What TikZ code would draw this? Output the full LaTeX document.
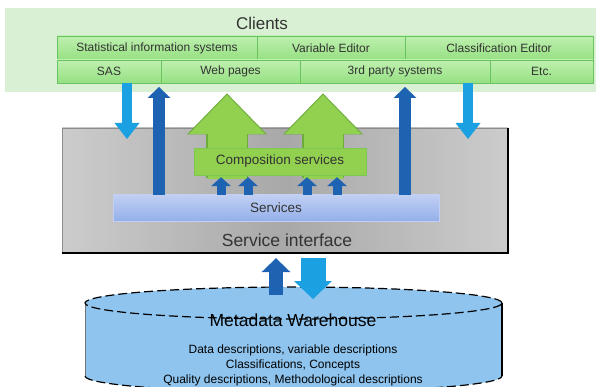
\documentclass[tikz,border=0pt]{standalone}
\usepackage{fontspec}
\setmainfont{Liberation Sans}
\usepackage{tikz}
\usetikzlibrary{arrows.meta,positioning,calc}
\usepackage{xcolor}
\definecolor{clientbg}{RGB}{218,240,212}
\definecolor{cellgreen}{RGB}{150,224,130}
\definecolor{celllight}{RGB}{190,240,175}
\definecolor{cellborder}{RGB}{105,195,95}
\definecolor{arrowgreen}{RGB}{146,208,80}
\definecolor{arrowgreenbd}{RGB}{108,172,58}
\definecolor{compborder}{RGB}{125,200,80}
\definecolor{lightarrow}{RGB}{27,160,226}
\definecolor{darkarrow}{RGB}{30,98,178}
\definecolor{servblue}{RGB}{148,176,234}
\definecolor{servlight}{RGB}{192,207,243}
\definecolor{dwhblue}{RGB}{142,196,238}
\definecolor{textgray}{RGB}{51,51,51}
\tikzstyle{clientsbg} = [rectangle, fill=clientbg, inner sep=0pt]
\tikzstyle{cell} = [rectangle, draw=cellborder, line width=0.8pt, top color=celllight, bottom color=cellgreen, minimum height=24pt, inner sep=0pt, text=textgray, font=\fontsize{12}{14}\selectfont]
\tikzstyle{iface} = [rectangle, left color=black!20, right color=black!20, middle color=black!34, draw=black!45, inner sep=0pt]
\tikzstyle{comp} = [rectangle, fill=arrowgreen, draw=compborder, inner sep=0pt, text=textgray, font=\fontsize{13.5}{16}\selectfont]
\tikzstyle{serv} = [rectangle, top color=servlight, bottom color=servblue, draw=servlight, inner sep=0pt, text=textgray, font=\fontsize{13.5}{16}\selectfont]
\tikzstyle{dnarrow} = [line width=10pt, color=lightarrow, -{Triangle[width=25pt, length=16pt, line width=0pt]}]
\tikzstyle{uparrow} = [line width=12pt, color=darkarrow, -{Triangle[width=23pt, length=11pt, line width=0pt]}]
\tikzstyle{smallarrow} = [line width=9pt, color=darkarrow, -{Triangle[width=20pt, length=9pt, line width=0pt]}]
\tikzstyle{greenarrowbd} = [line width=42pt, color=arrowgreenbd, -{Triangle[width=80pt, length=41pt, line width=0pt]}]
\tikzstyle{greenarrow} = [line width=39pt, color=arrowgreen, -{Triangle[width=76pt, length=39pt, line width=0pt]}]
\tikzstyle{uparrowbig} = [line width=14pt, color=darkarrow, -{Triangle[width=29pt, length=14pt, line width=0pt]}]
\tikzstyle{dnarrowbig} = [line width=25pt, color=lightarrow, -{Triangle[width=38pt, length=18pt, line width=0pt]}]
\tikzstyle{dwhline} = [black, line width=1.2pt, dash pattern=on 9pt off 4pt]

\begin{document}
\begin{tikzpicture}[x=1pt, y=-1pt]
    \useasboundingbox (0,0) rectangle (596,387);

    % Clients
    \node[clientsbg, minimum width=591, minimum height=84] (clients) at (300.5,50) {};
    \node[text=textgray, font=\fontsize{17}{20}\selectfont] (clientslbl) at (262,23) {Clients};

    % Top row
    \node[cell, minimum width=200] (stat) at (157,48) {Statistical information systems};
    \node[cell, minimum width=148] (vared) at (331,48) {Variable Editor};
    \node[cell, minimum width=188] (classed) at (499,48) {Classification Editor};

    % Second row
    \node[cell, minimum width=104, minimum height=23] (sas) at (109,71.5) {SAS};
    \node[cell, minimum width=139, minimum height=23] (web) at (230.5,71.5) {Web pages};
    \node[cell, minimum width=190, minimum height=23] (third) at (395,71.5) {3rd party systems};
    \node[cell, minimum width=103, minimum height=23] (etc) at (541.5,71.5) {Etc.};

    % Service interface
    \node[iface, minimum width=446, minimum height=125] (iface) at (285,190.5) {};
    \draw[line width=1.5pt] (iface.north east) -- (iface.south east) -- (iface.south west);
    \node[text=textgray, font=\fontsize{17.5}{20}\selectfont] (ifacelbl) at (287,240) {Service interface};

    % Big green arrows
    \coordinate (g1) at (227,178);
    \coordinate (g2) at (323,178);
    \draw[greenarrowbd] (g1) -- ([yshift=-10pt]web.south -| g1);
    \draw[greenarrow] ([yshift=-1pt]g1) -- ([yshift=-11.5pt]web.south -| g1);
    \draw[greenarrowbd] (g2) -- ([yshift=-10pt]web.south -| g2);
    \draw[greenarrow] ([yshift=-1pt]g2) -- ([yshift=-11.5pt]web.south -| g2);

    % Composition and services
    \node[comp, minimum width=172, minimum height=27] (comp) at (280,161.5) {Composition services};
    \node[serv, minimum width=326, minimum height=26] (serv) at (276,208) {Services};

    \foreach \x [count=\i] in {221,248,307,337} {
        \coordinate (s\i) at (\x,0);
        \draw[smallarrow] (serv.north -| s\i) -- ([yshift=-2pt]comp.south -| s\i);
    }

    % Clients <-> services
    \coordinate (a1) at (127,139);
    \coordinate (a2) at (159,87);
    \coordinate (a3) at (405,87);
    \coordinate (a4) at (468,139);
    \draw[dnarrow] (sas.south -| a1) -- (a1);
    \draw[uparrow] (serv.north -| a2) -- (a2);
    \draw[uparrow] (serv.north -| a3) -- (a3);
    \draw[dnarrow] (third.south -| a4) -- (a4);

    % Metadata warehouse
    \coordinate (dwhc) at (293.5,303);
    \fill[dwhblue] (85,303) -- (85,376) arc[start angle=180, end angle=360, x radius=208.5pt, y radius=16pt] -- (502,303) -- cycle;
    \fill[dwhblue] (dwhc) ellipse[x radius=208.5pt, y radius=16pt];
    \draw[black!55, line width=0.8pt] (85,303) -- (85,376);
    \draw[black, line width=1.2pt] (502,303) -- (502,376);
    \draw[dwhline] (dwhc) ellipse[x radius=208.5pt, y radius=16pt];
    \draw[dwhline] (85,376) arc[start angle=180, end angle=360, x radius=208.5pt, y radius=16pt];
    \node[font=\fontsize{17.5}{20}\selectfont] (dwh) at (293,320) {Metadata Warehouse};
    \node[font=\fontsize{12}{15}\selectfont, align=center] (dwhtxt) at (293,365) {Data descriptions, variable descriptions\\Classifications, Concepts\\Quality descriptions, Methodological descriptions};

    % Services <-> warehouse
    \coordinate (b1) at (276,295);
    \coordinate (b2) at (313,299);
    \draw[uparrowbig] (b1) -- ([yshift=-5pt]iface.south -| b1);
    \draw[dnarrowbig] ([yshift=-5pt]iface.south -| b2) -- (b2);
\end{tikzpicture}
\end{document}
